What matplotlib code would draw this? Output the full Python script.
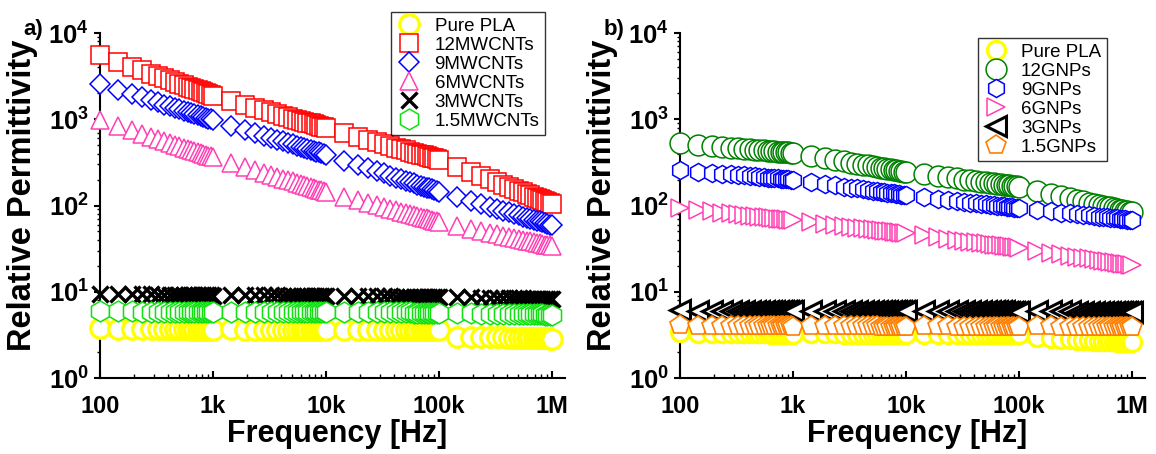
import numpy as np
import matplotlib
matplotlib.use("Agg")
import matplotlib.pyplot as plt
from matplotlib.ticker import FixedLocator, FixedFormatter, LogLocator, NullFormatter

plt.rcParams['font.family'] = ['Liberation Sans', 'DejaVu Sans']
plt.rcParams['mathtext.fontset'] = 'custom'
plt.rcParams['mathtext.rm'] = 'Liberation Sans:bold'
plt.rcParams['mathtext.bf'] = 'Liberation Sans:bold'

# Linear frequency steps inside one decade of the sweep (21 points per decade)
decade_steps = [1.0, 1.45, 1.9, 2.35, 2.8, 3.25, 3.7, 4.15, 4.6, 5.05, 5.5,
                5.95, 6.4, 6.85, 7.3, 7.75, 8.2, 8.65, 9.1, 9.55, 10.0]
decade_starts = [1e2, 1e3, 1e4, 1e5]
freq = np.array([start * s
                 for i, start in enumerate(decade_starts)
                 for s in (decade_steps if i == 0 else decade_steps[1:])])

freq_ticks = [1e2, 1e3, 1e4, 1e5, 1e6]
freq_labels = ['100', '1k', '10k', '100k', '1M']
perm_ticks = [1, 10, 100, 1000, 10000]
perm_labels = [r'$\mathbf{10^{0}}$', r'$\mathbf{10^{1}}$', r'$\mathbf{10^{2}}$',
               r'$\mathbf{10^{3}}$', r'$\mathbf{10^{4}}$']

# ---- a) PLA / MWCNT composites ----
pla_a = [3.75, 3.72, 3.70, 3.70, 3.69, 3.68, 3.68, 3.67, 3.67, 3.66, 3.66, 3.66, 3.65, 3.65, 3.65, 3.64, 3.64, 3.64, 3.64, 3.63, 3.63,
         3.66, 3.65, 3.65, 3.64, 3.64, 3.64, 3.63, 3.63, 3.63, 3.63, 3.62, 3.62, 3.62, 3.62, 3.62, 3.61, 3.61, 3.61, 3.61, 3.61,
         3.63, 3.62, 3.62, 3.61, 3.61, 3.60, 3.60, 3.60, 3.59, 3.59, 3.59, 3.58, 3.58, 3.58, 3.58, 3.57, 3.57, 3.57, 3.57, 3.56,
         3.02, 3.00, 2.98, 2.97, 2.96, 2.95, 2.94, 2.93, 2.93, 2.92, 2.91, 2.91, 2.90, 2.90, 2.89, 2.89, 2.88, 2.88, 2.87, 2.87]
mwcnt12 = [5500, 4620, 4070, 3690, 3390, 3160, 2970, 2820, 2680, 2570, 2470, 2380, 2300, 2230, 2160, 2100, 2050, 2000, 1950, 1900, 1860,
           1620, 1470, 1360, 1270, 1200, 1150, 1100, 1060, 1020, 990, 960, 937, 913, 893, 872, 854, 837, 822, 807, 794,
           692, 626, 579, 543, 514, 490, 468, 452, 437, 422, 410, 400, 390, 381, 372, 364, 357, 351, 345, 339,
           281, 244, 219, 201, 186, 174, 164, 156, 148, 142, 137, 132, 127, 123, 119, 116, 113, 110, 107, 105]
mwcnt9 = [2570, 2200, 1960, 1790, 1670, 1570, 1480, 1410, 1350, 1300, 1260, 1210, 1180, 1150, 1120, 1090, 1060, 1040, 1020, 997, 977,
          842, 755, 695, 647, 610, 579, 553, 531, 512, 494, 479, 465, 452, 442, 431, 421, 412, 403, 397, 389,
          332, 295, 269, 250, 235, 222, 211, 202, 194, 187, 181, 175, 170, 166, 161, 158, 154, 151, 147, 145,
          125, 113, 104, 97.2, 91.5, 87.0, 83.2, 79.9, 77.1, 74.5, 72.4, 70.3, 68.4, 66.7, 65.3, 63.9, 62.5, 61.3, 60.2, 59.0]
mwcnt6 = [977, 833, 742, 676, 628, 589, 557, 530, 507, 488, 470, 454, 440, 428, 416, 405, 396, 386, 378, 370, 363,
          313, 281, 258, 240, 227, 215, 205, 197, 190, 184, 178, 173, 168, 164, 160, 156, 153, 150, 147, 144,
          127, 115, 107, 101, 95.7, 91.5, 87.9, 84.7, 81.9, 79.6, 77.5, 75.4, 73.6, 72.1, 70.7, 69.2, 67.9, 66.6, 65.6, 64.6,
          58.2, 53.9, 50.8, 48.5, 46.4, 44.8, 43.3, 42.1, 41.1, 40.1, 39.2, 38.4, 37.7, 37.0, 36.4, 35.9, 35.3, 34.8, 34.4, 33.9]
mwcnt3 = [9.5, 9.4, 9.35, 9.3, 9.3, 9.25, 9.25, 9.2, 9.2, 9.2, 9.15, 9.15, 9.15, 9.1, 9.1, 9.1, 9.1, 9.05, 9.05, 9.05, 9.0,
          9.2, 9.15, 9.1, 9.1, 9.05, 9.05, 9.0, 9.0, 9.0, 8.95, 8.95, 8.95, 8.9, 8.9, 8.9, 8.9, 8.85, 8.85, 8.85, 8.85,
          9.0, 8.95, 8.9, 8.9, 8.85, 8.85, 8.8, 8.8, 8.8, 8.75, 8.75, 8.75, 8.7, 8.7, 8.7, 8.7, 8.65, 8.65, 8.65, 8.65,
          8.7, 8.6, 8.55, 8.5, 8.5, 8.45, 8.45, 8.4, 8.4, 8.4, 8.35, 8.35, 8.35, 8.3, 8.3, 8.3, 8.3, 8.25, 8.25, 8.25]
mwcnt15 = [6.0, 5.95, 5.92, 5.9, 5.9, 5.88, 5.87, 5.86, 5.86, 5.85, 5.85, 5.84, 5.84, 5.83, 5.83, 5.83, 5.82, 5.82, 5.82, 5.81, 5.81,
           5.85, 5.84, 5.83, 5.82, 5.82, 5.81, 5.81, 5.80, 5.80, 5.80, 5.79, 5.79, 5.79, 5.78, 5.78, 5.78, 5.78, 5.77, 5.77, 5.77,
           5.80, 5.79, 5.78, 5.77, 5.77, 5.76, 5.76, 5.75, 5.75, 5.75, 5.74, 5.74, 5.74, 5.73, 5.73, 5.73, 5.73, 5.72, 5.72, 5.72,
           5.65, 5.60, 5.57, 5.55, 5.53, 5.52, 5.51, 5.50, 5.49, 5.48, 5.47, 5.47, 5.46, 5.46, 5.45, 5.45, 5.44, 5.44, 5.43, 5.43]

# ---- b) PLA / GNP composites ----
pla_b = [3.40, 3.36, 3.34, 3.33, 3.32, 3.31, 3.31, 3.30, 3.30, 3.29, 3.29, 3.29, 3.28, 3.28, 3.28, 3.28, 3.27, 3.27, 3.27, 3.27, 3.26,
         3.31, 3.30, 3.29, 3.28, 3.28, 3.27, 3.27, 3.27, 3.26, 3.26, 3.26, 3.26, 3.25, 3.25, 3.25, 3.25, 3.25, 3.24, 3.24, 3.24,
         3.28, 3.27, 3.26, 3.25, 3.25, 3.24, 3.24, 3.24, 3.23, 3.23, 3.23, 3.23, 3.22, 3.22, 3.22, 3.22, 3.22, 3.21, 3.21, 3.21,
         2.95, 2.88, 2.83, 2.80, 2.77, 2.75, 2.73, 2.71, 2.70, 2.68, 2.67, 2.66, 2.65, 2.64, 2.63, 2.62, 2.61, 2.60, 2.60, 2.59]
gnp12 = [525, 504, 489, 478, 469, 461, 455, 449, 444, 439, 435, 431, 428, 425, 422, 419, 416, 414, 412, 410, 407,
         375, 353, 337, 324, 314, 305, 298, 291, 285, 280, 275, 271, 267, 263, 259, 256, 253, 250, 247, 245,
         230, 220, 212, 206, 200, 196, 192, 189, 186, 183, 181, 179, 177, 175, 173, 172, 170, 168, 167, 166,
         149, 137, 128, 122, 117, 112, 108, 105, 102, 99.6, 97.1, 95.1, 93.1, 91.5, 89.8, 88.3, 87.0, 85.5, 84.3, 83.2]
gnp9 = [257, 247, 240, 234, 229, 226, 223, 220, 217, 215, 213, 211, 209, 208, 207, 205, 204, 203, 201, 200, 199,
        187, 178, 171, 166, 161, 158, 154, 152, 149, 147, 144, 143, 141, 140, 138, 136, 135, 134, 133, 132,
        125, 120, 116, 113, 111, 108, 107, 105, 104, 102, 101, 99.9, 99.0, 98.1, 97.2, 96.4, 95.4, 94.8, 94.1, 93.5,
        88.8, 85.5, 82.9, 81.0, 79.3, 77.9, 76.7, 75.5, 74.5, 73.6, 72.7, 72.1, 71.4, 70.8, 70.3, 69.7, 69.2, 68.7, 68.2, 67.7]
gnp6 = [93.3, 88.6, 85.3, 82.8, 80.8, 79.1, 77.7, 76.5, 75.4, 74.4, 73.4, 72.6, 71.9, 71.3, 70.6, 70.2, 69.5, 69.0, 68.6, 68.0, 67.5,
        63.9, 61.3, 59.4, 57.8, 56.6, 55.5, 54.5, 53.7, 53.0, 52.2, 51.7, 51.1, 50.6, 50.2, 49.7, 49.3, 48.8, 48.5, 48.1, 47.8,
        44.9, 42.9, 41.3, 40.1, 39.1, 38.2, 37.5, 36.9, 36.3, 35.8, 35.3, 34.8, 34.5, 34.1, 33.7, 33.5, 33.1, 32.8, 32.6, 32.3,
        30.0, 28.4, 27.2, 26.3, 25.5, 24.8, 24.3, 23.8, 23.4, 23.0, 22.6, 22.3, 22.0, 21.7, 21.4, 21.2, 21.0, 20.8, 20.6, 20.4]
gnp3 = [6.10, 6.06, 6.04, 6.03, 6.02, 6.01, 6.00, 6.00, 5.99, 5.99, 5.98, 5.98, 5.98, 5.97, 5.97, 5.97, 5.96, 5.96, 5.96, 5.96, 5.95,
        6.02, 6.00, 5.99, 5.98, 5.97, 5.97, 5.96, 5.96, 5.95, 5.95, 5.95, 5.94, 5.94, 5.94, 5.93, 5.93, 5.93, 5.93, 5.92, 5.92,
        5.99, 5.97, 5.96, 5.95, 5.94, 5.94, 5.93, 5.93, 5.92, 5.92, 5.92, 5.91, 5.91, 5.91, 5.90, 5.90, 5.90, 5.90, 5.89, 5.89,
        5.95, 5.93, 5.92, 5.91, 5.90, 5.90, 5.89, 5.89, 5.88, 5.88, 5.88, 5.87, 5.87, 5.87, 5.86, 5.86, 5.86, 5.86, 5.85, 5.85]
gnp15 = [4.10, 4.05, 4.03, 4.02, 4.01, 4.00, 4.00, 3.99, 3.99, 3.98, 3.98, 3.98, 3.97, 3.97, 3.97, 3.97, 3.96, 3.96, 3.96, 3.96, 3.95,
         4.02, 4.00, 3.99, 3.98, 3.98, 3.97, 3.97, 3.96, 3.96, 3.96, 3.95, 3.95, 3.95, 3.95, 3.94, 3.94, 3.94, 3.94, 3.93, 3.93,
         3.99, 3.97, 3.96, 3.95, 3.95, 3.94, 3.94, 3.93, 3.93, 3.93, 3.92, 3.92, 3.92, 3.92, 3.91, 3.91, 3.91, 3.91, 3.90, 3.90,
         3.98, 3.96, 3.95, 3.94, 3.94, 3.93, 3.93, 3.93, 3.92, 3.92, 3.92, 3.92, 3.91, 3.91, 3.91, 3.91, 3.90, 3.90, 3.90, 3.90]

labels_a = ['Pure PLA', '12MWCNTs', '9MWCNTs', '6MWCNTs', '3MWCNTs', '1.5MWCNTs']
labels_b = ['Pure PLA', '12GNPs', '9GNPs', '6GNPs', '3GNPs', '1.5GNPs']

YELLOW, RED, BLUE, PINK = '#ffff00', '#ff0000', '#0000ff', '#ff3fb4'
styles_a = [
    dict(marker='o', ms=14, mec=YELLOW, mew=2.4),
    dict(marker='s', ms=13, mec=RED, mew=1.1),
    dict(marker='D', ms=10, mec=BLUE, mew=1.1),
    dict(marker='^', ms=13, mec=PINK, mew=1.1),
    dict(marker='x', ms=12, mec='black', mew=2.4),
    dict(marker='h', ms=15, mec='#10e010', mew=1.1),
]
styles_b = [
    dict(marker='o', ms=13, mec=YELLOW, mew=2.4),
    dict(marker='o', ms=15, mec='#008000', mew=1.1),
    dict(marker='h', ms=13, mec=BLUE, mew=1.1),
    dict(marker='>', ms=13, mec=PINK, mew=1.1),
    dict(marker='<', ms=14, mec='black', mew=2.2),
    dict(marker='p', ms=15, mec='#ff7f00', mew=1.2),
]

fig = plt.figure(figsize=(11.56, 4.54), dpi=100)
W, H = 1156, 454
ax_w, ax_h = 465 / W, 345 / H
ax_a = fig.add_axes([100 / W, 76 / H, ax_w, ax_h])
ax_b = fig.add_axes([680 / W, 76 / H, ax_w, ax_h])


def draw_panel(ax, series, labels, styles, legend_anchor, tag):
    for values, label, st in zip(series, labels, styles):
        ax.plot(freq, values, linestyle='none', mfc='white', label=label,
                clip_on=False, zorder=3, **st)
    ax.set_xscale('log')
    ax.set_yscale('log')
    ax.set_xlim(100, 1.3e6)
    ax.set_ylim(1, 1e4)
    for side in ('top', 'right'):
        ax.spines[side].set_visible(False)
    for side in ('left', 'bottom'):
        ax.spines[side].set_linewidth(1.5)
    ax.xaxis.set_major_locator(FixedLocator(freq_ticks))
    ax.xaxis.set_major_formatter(FixedFormatter(freq_labels))
    ax.xaxis.set_minor_locator(LogLocator(base=10, subs=np.arange(2, 10)))
    ax.xaxis.set_minor_formatter(NullFormatter())
    ax.yaxis.set_major_locator(FixedLocator(perm_ticks))
    ax.yaxis.set_major_formatter(FixedFormatter(perm_labels))
    ax.yaxis.set_minor_locator(LogLocator(base=10, subs=np.arange(2, 10)))
    ax.yaxis.set_minor_formatter(NullFormatter())
    ax.tick_params(axis='x', which='major', direction='in', length=5, width=1.5,
                   labelsize=17, pad=12)
    ax.tick_params(axis='x', which='minor', direction='in', length=3, width=1.0)
    ax.tick_params(axis='y', which='major', direction='out', length=4, width=1.5,
                   labelsize=18.5, pad=4)
    ax.tick_params(axis='y', which='minor', direction='out', length=2.5, width=1.0)
    for t in ax.get_xticklabels():
        t.set_fontweight('bold')
    ax.set_xlabel('Frequency [Hz]', fontsize=22, fontweight='bold')
    ax.xaxis.set_label_coords(0.51, -0.118)
    ax.set_ylabel('Relative Permittivity', fontsize=23.5, fontweight='bold')
    ax.yaxis.set_label_coords(-0.133, 0.53)
    leg = ax.legend(loc='upper right', bbox_to_anchor=legend_anchor, frameon=True,
                    fancybox=False, edgecolor='black', fontsize=13.5,
                    labelspacing=0.1, handlelength=1.3, handletextpad=0.7,
                    borderpad=0.3, borderaxespad=0)
    leg.get_frame().set_linewidth(1.0)
    leg.set_zorder(5)
    ax.text(-0.165, 1.01, tag, transform=ax.transAxes, fontsize=16,
            fontweight='bold', ha='left', va='center')


draw_panel(ax_a, [pla_a, mwcnt12, mwcnt9, mwcnt6, mwcnt3, mwcnt15], labels_a,
           styles_a, (0.957, 1.061), 'a)')
draw_panel(ax_b, [pla_b, gnp12, gnp9, gnp6, gnp3, gnp15], labels_b,
           styles_b, (0.918, 0.986), 'b)')

fig.savefig('out.png', dpi=100)
